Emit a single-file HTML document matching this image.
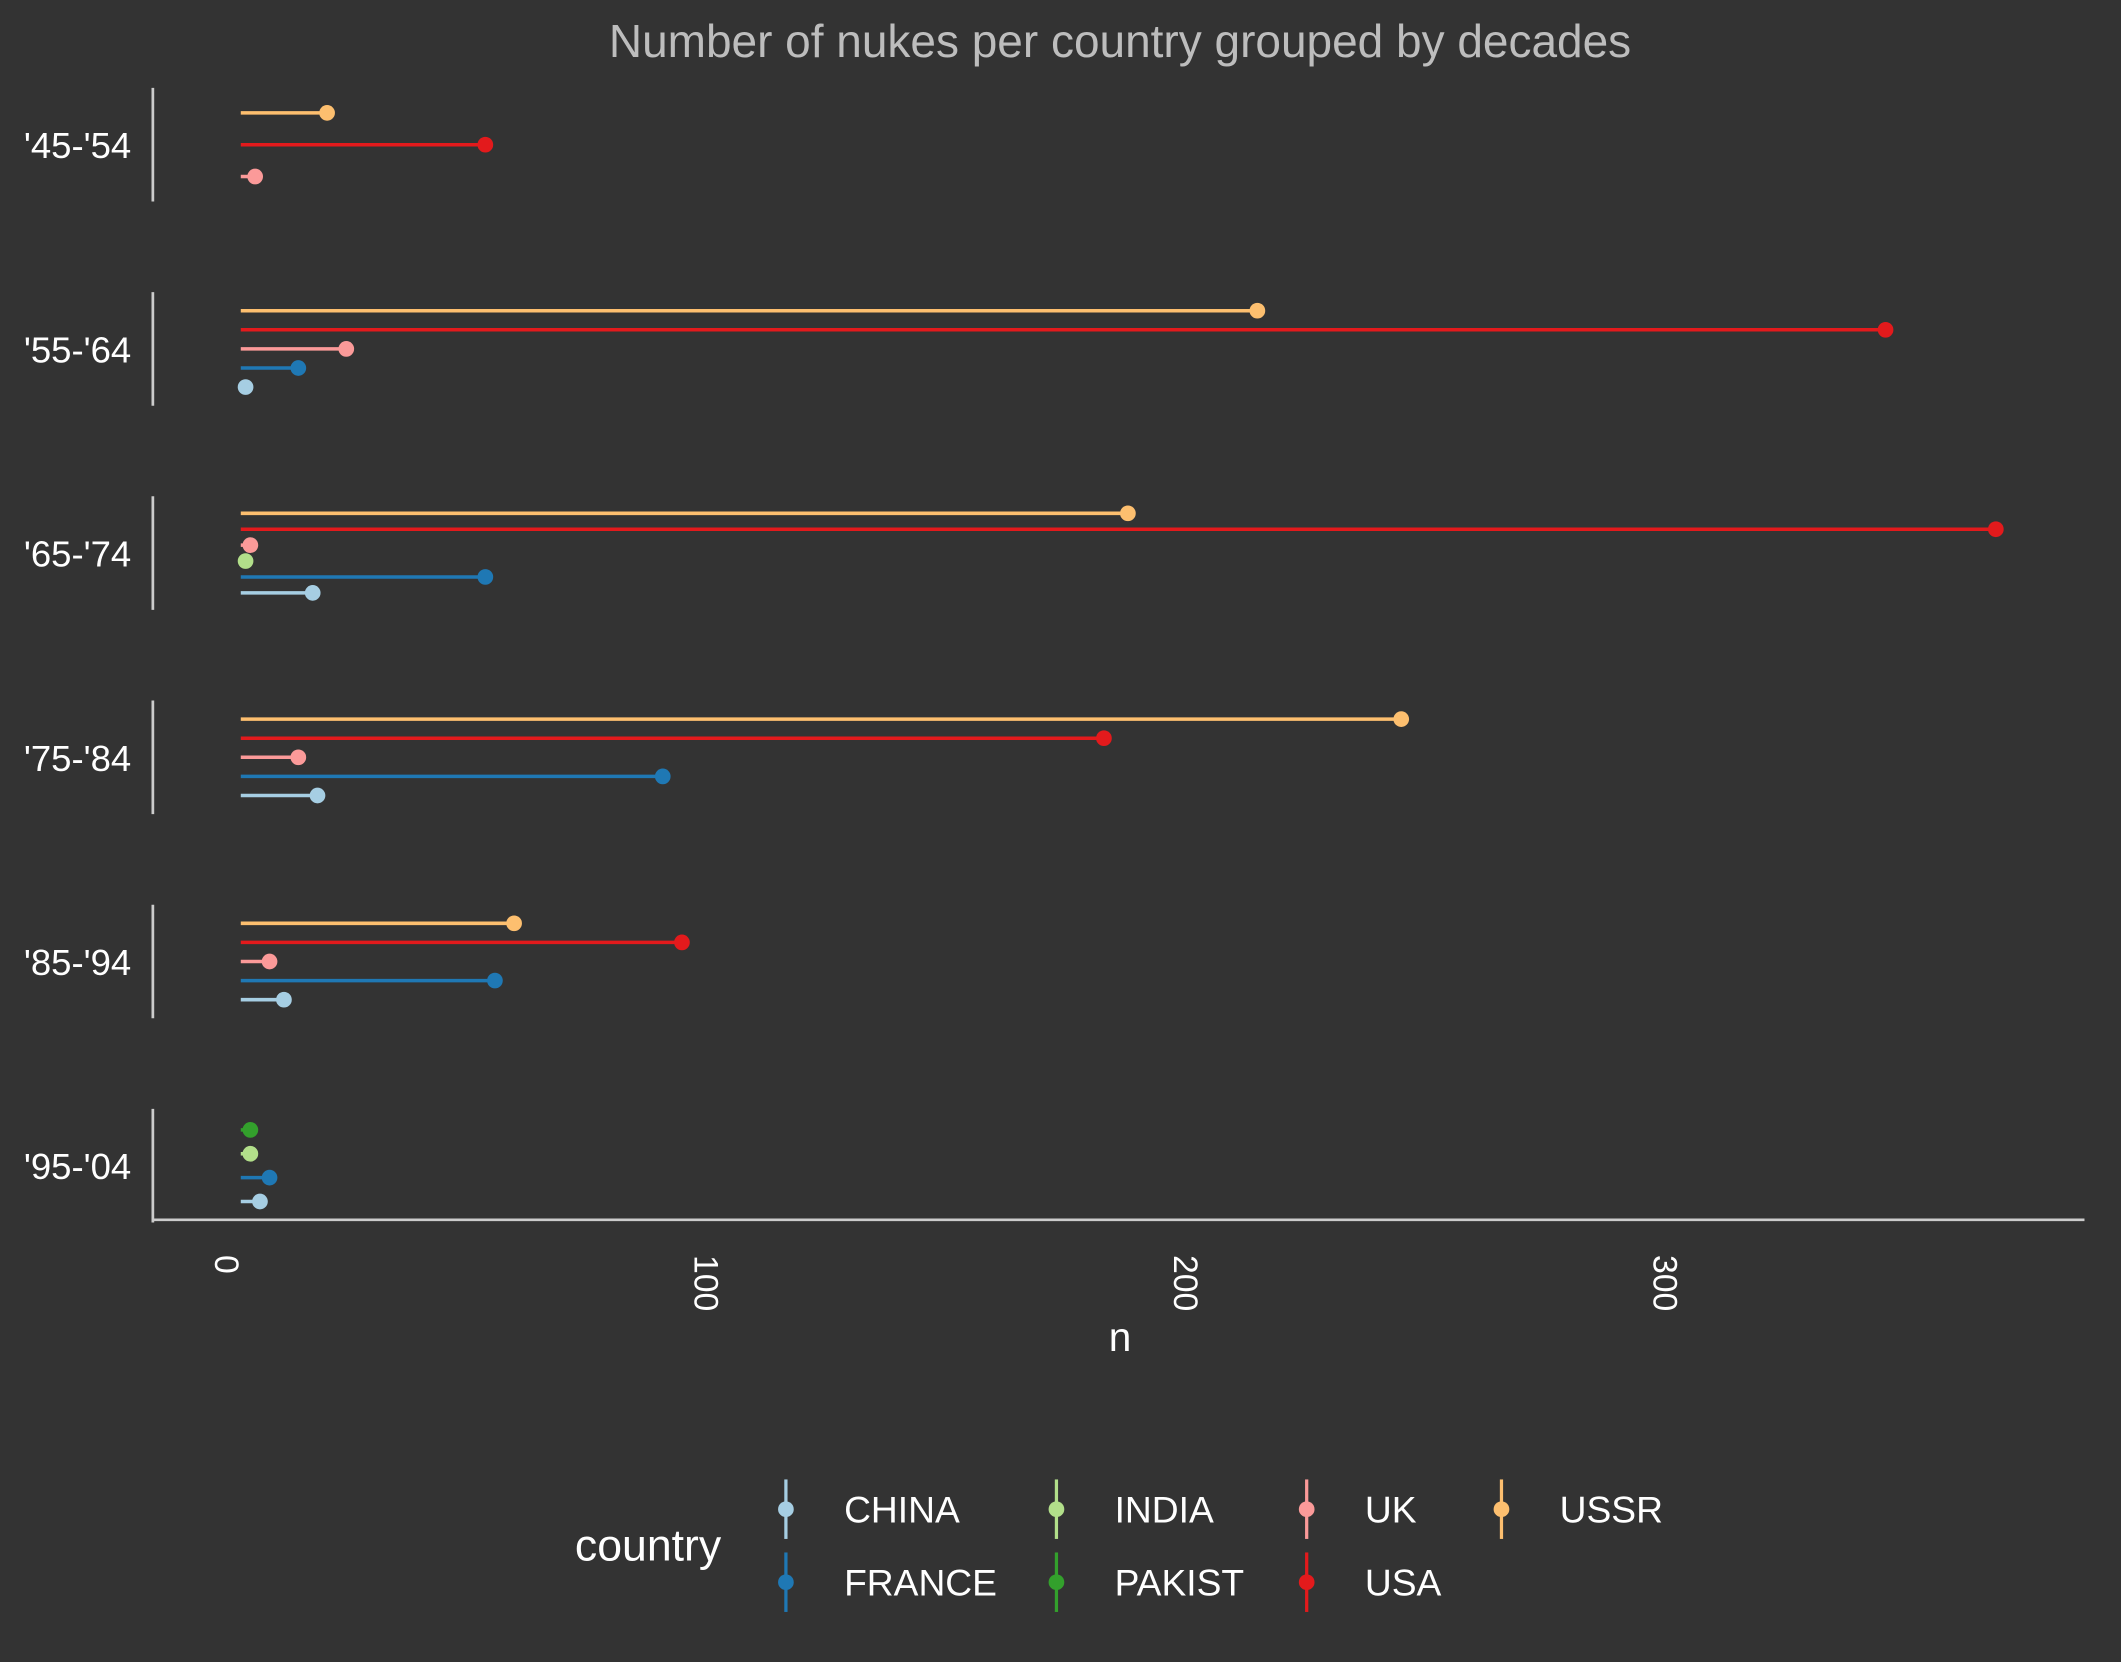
<!DOCTYPE html>
<html><head><meta charset="utf-8"><style>
html,body{margin:0;padding:0;background:#333333;}
svg{display:block;}
text{font-family:"Liberation Sans",Arial,sans-serif;}
</style></head><body>
<svg id="chart" width="2121" height="1662" viewBox="0 0 1568 1229" preserveAspectRatio="none" xmlns="http://www.w3.org/2000/svg">
<rect width="1568" height="1229" fill="#333333"/>
<text x="828" y="42" text-anchor="middle" font-size="34" fill="#bdbdbd">Number of nukes per country grouped by decades</text>
<g id="plot"></g>
<g id="legend"></g>
</svg>
<script>
const decades = ["'45-'54","'55-'64","'65-'74","'75-'84","'85-'94","'95-'04"];
const countries = ["CHINA","FRANCE","INDIA","PAKIST","UK","USA","USSR"];
const colors = ["#A6CEE3","#1F78B4","#B2DF8A","#33A02C","#FB9A99","#E31A1C","#FDBF6F"];
const chinaVals  = [null, 1, 15, 16, 9, 4];
const franceVals = [null, 12, 51, 88, 53, 6];
const indiaVals  = [null, null, 1, null, null, 2];
const pakistVals = [null, null, null, null, null, 2];
const ukVals     = [3, 22, 2, 12, 6, null];
const usaVals    = [51, 343, 366, 180, 92, null];
const ussrVals   = [18, 212, 185, 242, 57, null];
const xTicks = [0, 100, 200, 300];
const series = [chinaVals, franceVals, indiaVals, pakistVals, ukVals, usaVals, ussrVals];

const NS = "http://www.w3.org/2000/svg";
function mk(tag, attrs, parent){const e=document.createElementNS(NS,tag);for(const k in attrs)e.setAttribute(k,attrs[k]);parent.appendChild(e);return e;}
const x0=178, xs=3.545;
function xScale(v){return x0+v*xs;}
function yCenter(i){return 107+i*151;}
const plot=document.getElementById('plot');

decades.forEach((d,i)=>{
  const c=yCenter(i);
  const band=mk('line',{x1:113,x2:113,y1:c-42,y2:c+42,stroke:'#cccccc','stroke-width':2},plot);
  
  
  const t=mk('text',{x:97,y:c+10,'text-anchor':'end','font-size':27,fill:'#ffffff'},plot);
  t.textContent=d;
  
  
  const present=[];
  for(let k=countries.length-1;k>=0;k--){ if(series[k][i]!==null) present.push(k); }
  const n=present.length, span=70.6, step=span/n;
  present.forEach((k,j)=>{
    const y=c+(j-(n-1)/2)*step;
    const v=series[k][i];
    const ln=mk('line',{x1:xScale(0),x2:xScale(v),y1:y,y2:y,stroke:colors[k],'stroke-width':2.6},plot);
    
    
    const dot=mk('circle',{cx:xScale(v),cy:y,r:5.8,fill:colors[k]},plot);
    
    
  });
});
const ax=mk('line',{x1:113,x2:1541,y1:902,y2:902,stroke:'#cccccc','stroke-width':2},plot);


xTicks.forEach(v=>{
  const x=xScale(v)-19;
  const t=mk('text',{x:x,y:928,'font-size':25,fill:'#ffffff',transform:`rotate(90 ${x} 928)`},plot);
  t.textContent=String(v);
  
  
});
const xt=mk('text',{x:828,y:999,'text-anchor':'middle','font-size':30,fill:'#ffffff'},plot);
xt.textContent='n';



const lg=document.getElementById('legend');
const lt=mk('text',{x:425,y:1154,'font-size':33,fill:'#ffffff'},lg);
lt.textContent='country';


const colX=[581,781,966,1110], rowY=[1116,1170];
countries.forEach((name,k)=>{
  const col=Math.floor(k/2), row=k%2;
  const x=colX[col], y=rowY[row];
  const g=mk('g',{},lg);
  
  
  mk('line',{x1:x,x2:x,y1:y-22,y2:y+22,stroke:colors[k],'stroke-width':2.4},g);
  mk('circle',{cx:x,cy:y,r:5.8,fill:colors[k]},g);
  const t=mk('text',{x:x+43,y:y+10,'font-size':27.5,fill:'#ffffff'},g);
  t.textContent=name;
});
</script>
</body></html>
